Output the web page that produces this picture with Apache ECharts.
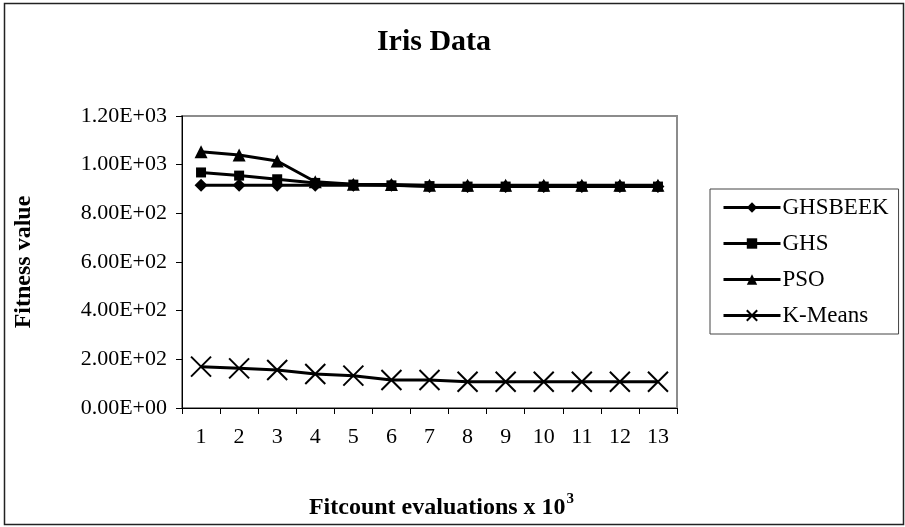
<!DOCTYPE html>
<html><head><meta charset="utf-8">
<script src="https://cdn.jsdelivr.net/npm/echarts@6/dist/echarts.min.js"></script>
<style>html,body{margin:0;padding:0;background:#fff}#c{width:905px;height:527px}</style>
</head><body><div id="c"></div>
<script>
const categories = ['1','2','3','4','5','6','7','8','9','10','11','12','13'];
const ghsbeek = [915,915,915,915,915,915,910,910,910,910,910,910,910];
const ghs = [968,955,940,925,918,915,912,910,910,910,910,910,910];
const pso = [1053,1040,1015,930,920,918,915,915,915,915,915,915,915];
const kmeans = [170,163,156,140,133,115,115,108,108,108,108,108,108];
const seriesNames = ['GHSBEEK','GHS','PSO','K-Means'];

const font = '"Liberation Serif","Times New Roman",serif';
function sci(v){
  if (v === 0) return '0.00E+00';
  let e = Math.floor(Math.log10(Math.abs(v)));
  let m = v / Math.pow(10, e);
  if (Math.abs(m) >= 9.995) { m /= 10; e += 1; }
  const es = (e < 0 ? '-' : '+') + String(Math.abs(e)).padStart(2, '0');
  return m.toFixed(2) + 'E' + es;
}
const lineStyle = {color:'#000', width:3};
const chart = echarts.init(document.getElementById('c'));
chart.setOption({
  backgroundColor:'#fff',
  animation:false,
  title:{text:'Iris Data', left:429, top:22, textAlign:'center',
    textStyle:{fontFamily:font, fontWeight:'bold', fontSize:30, color:'#000'}},
  legend:{
    orient:'vertical', left:710, top:189,
    padding:[7,10,7,12], itemGap:13, itemWidth:57, itemHeight:13,
    borderColor:'#444', borderWidth:1,
    lineStyle:{width:3, color:'#000'},
    textStyle:{fontFamily:font, fontSize:23, color:'#000', padding:[0,0,0,-3]},
    data:seriesNames
  },
  grid:{left:182, top:116, width:495, height:292, show:true, borderColor:'#8c8c8c', borderWidth:2, containLabel:false},
  xAxis:{
    type:'category', data:categories, boundaryGap:true,
    axisLine:{lineStyle:{color:'#000', width:1}},
    axisTick:{show:true, alignWithLabel:false, length:6, lineStyle:{color:'#000'}},
    axisLabel:{fontFamily:font, fontSize:22, color:'#000', margin:18},
    name:'{b|Fitcount evaluations x 10}{s|3}', nameLocation:'middle', nameGap:84,
    nameTextStyle:{padding:[0,0,0,24], rich:{
      b:{fontFamily:font, fontWeight:'bold', fontSize:24, color:'#000'},
      s:{fontFamily:font, fontWeight:'bold', fontSize:15, color:'#000', verticalAlign:'top', padding:[0,0,16,1]}
    }}
  },
  yAxis:{
    type:'value', min:0, max:1200, interval:200,
    axisLine:{show:true, lineStyle:{color:'#000', width:1}},
    axisTick:{show:true, length:6, lineStyle:{color:'#000'}},
    splitLine:{show:false},
    axisLabel:{fontFamily:font, fontSize:22, color:'#000', margin:15, formatter:sci},
    name:'Fitness value', nameLocation:'middle', nameGap:146,
    nameTextStyle:{fontFamily:font, fontWeight:'bold', fontSize:24, color:'#000'}
  },
  graphic:[{type:'rect', shape:{x:4.5, y:3.5, width:899, height:521},
    style:{fill:'none', stroke:'#222', lineWidth:1.5}, silent:true, z:-1}],
  series:[
    {name:seriesNames[0], type:'line', data:ghsbeek, symbol:'diamond', symbolSize:13,
      lineStyle, itemStyle:{color:'#000'}},
    {name:seriesNames[1], type:'line', data:ghs, symbol:'rect', symbolSize:10,
      lineStyle, itemStyle:{color:'#000'}},
    {name:seriesNames[2], type:'line', data:pso, symbol:'triangle', symbolSize:13,
      lineStyle, itemStyle:{color:'#000'}},
    {name:seriesNames[3], type:'line', data:kmeans, symbol:'path://M0,0L10,10M10,0L0,10', symbolSize:20,
      lineStyle, itemStyle:{color:'none', borderColor:'#000', borderWidth:2}}
  ]
});
</script></body></html>
